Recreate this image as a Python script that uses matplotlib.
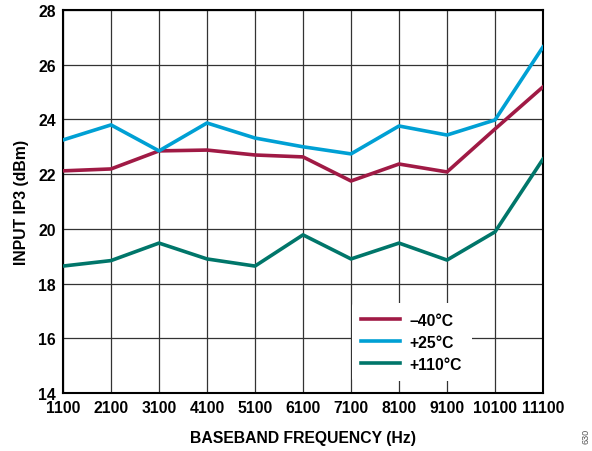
import matplotlib
matplotlib.use("Agg")
import matplotlib.pyplot as plt

plt.rcParams['font.family'] = ['Liberation Sans', 'DejaVu Sans']
plt.rcParams['font.weight'] = 'bold'

freq = [1100, 2100, 3100, 4100, 5100, 6100, 7100, 8100, 9100, 10100, 11100]
ip3_m40 = [22.12, 22.19, 22.85, 22.88, 22.70, 22.63, 21.75, 22.37, 22.08, 23.65, 25.19]
ip3_p25 = [23.25, 23.80, 22.85, 23.87, 23.32, 23.00, 22.74, 23.76, 23.43, 23.98, 26.65]
ip3_p110 = [18.64, 18.84, 19.48, 18.90, 18.64, 19.78, 18.90, 19.48, 18.86, 19.89, 22.55]
labels = ['\u201340°C', '+25°C', '+110°C']
colors = ['#A01A45', '#00A0D4', '#00766A']

fig = plt.figure(figsize=(5.92, 4.52), dpi=100)
ax = fig.add_axes([63 / 592, 1 - 394 / 452, 480 / 592, 383 / 452])

for y, lab, c in zip([ip3_m40, ip3_p25, ip3_p110], labels, colors):
    ax.plot(freq, y, color=c, lw=2.6, label=lab, zorder=3)

ax.set_xlim(1100, 11100)
ax.set_ylim(14, 28)
ax.set_xticks(freq)
ax.set_yticks(range(14, 29, 2))
ax.grid(True, color='#333333', lw=0.9)
ax.tick_params(length=0, labelsize=11.3, pad=5)
for s in ax.spines.values():
    s.set_linewidth(1.5)
    s.set_color('black')

ax.set_xlabel('BASEBAND FREQUENCY (Hz)', fontsize=11.3, fontweight='bold', labelpad=11)
ax.set_ylabel('INPUT IP3 (dBm)', fontsize=11.3, fontweight='bold', labelpad=7)

leg = ax.legend(loc='lower left', bbox_to_anchor=(0.585, 0.01), frameon=True,
                fontsize=11.3, handlelength=2.5, handletextpad=0.6,
                borderpad=0.6, labelspacing=0.45)
leg.get_frame().set_edgecolor('none')
leg.get_frame().set_facecolor('white')
leg.get_frame().set_alpha(1)

fig.text(0.99, 0.035, '630', rotation=90, fontsize=6.5, color='#555555',
         fontweight='normal', ha='center', va='center')

fig.savefig('out.png', dpi=100)
